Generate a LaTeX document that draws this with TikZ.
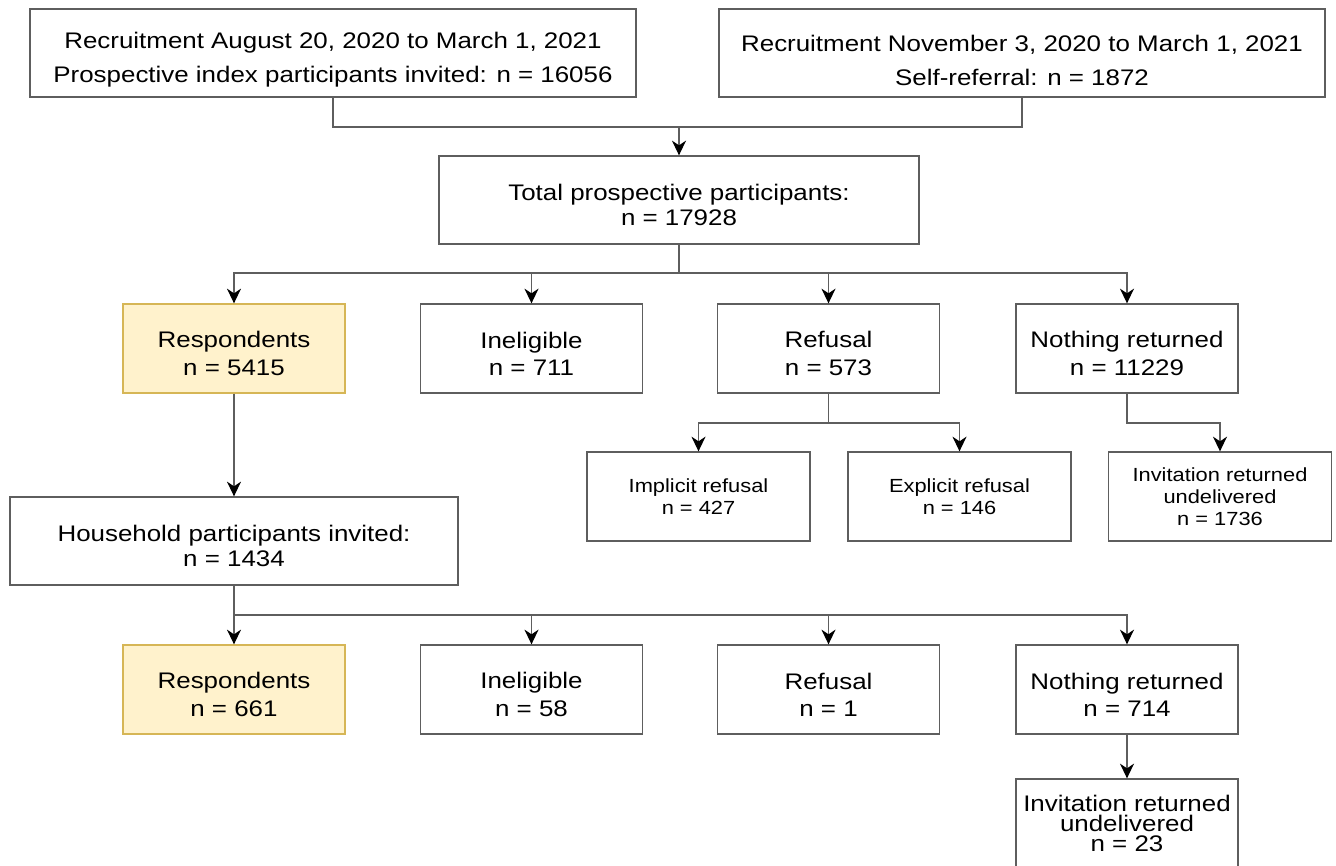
\documentclass[tikz,border=0pt]{standalone}
\usepackage{fontspec}
\setmainfont[FakeStretch=1.15]{Liberation Sans}
\usetikzlibrary{arrows.meta}
\definecolor{boxgray}{HTML}{5E5E5E}
\definecolor{respfill}{HTML}{FFF2CC}
\definecolor{respdraw}{HTML}{D6B656}
\begin{document}
\begin{tikzpicture}[x=0.75pt, y=-0.75pt,
  plainbox/.style={draw=boxgray, line width=1pt, align=center, inner sep=0pt,
    minimum width=166.5pt, minimum height=66.75pt},
  flowbox/.style={plainbox, text height=40.3pt,
    font=\fontsize{16.9}{20.5}\selectfont},
  topbox/.style={plainbox, text height=48.3pt,
    minimum width=454.5pt, minimum height=66pt,
    font=\fontsize{16.9}{25.5}\selectfont},
  sumbox/.style={plainbox, text height=38pt,
    minimum width=360pt, minimum height=66pt,
    font=\fontsize{16.9}{18.75}\selectfont},
  hhbox/.style={sumbox, minimum width=336pt},
  subbox/.style={plainbox, minimum width=167.25pt,
    font=\fontsize{14.25}{16.5}\selectfont},
  lastbox/.style={plainbox, font=\fontsize{16.9}{15}\selectfont},
  respbox/.style={flowbox, fill=respfill, draw=respdraw},
  link/.style={draw=boxgray, line width=1pt},
  arrow/.style={link, -{Stealth[length=11pt, width=10.5pt, inset=3.5pt, color=black]}}]

\useasboundingbox (0,0) rectangle (1336,865);
\clip (0,0) rectangle (1336,865);

% Recruitment
\node[topbox] (recA) at (333,53) {Recruitment August 20, 2020 to March 1, 2021\\
  Prospective index participants invited: n = 16056};
\node[topbox] (recB) at (1022,53) {Recruitment November 3, 2020 to March 1, 2021\\
  Self-referral: n = 1872};
\node[sumbox] (total) at (679,200) {Total prospective participants:\\n = 17928};

% Index participants
\node[respbox] (resp1) at (234,348.5) {Respondents\\n = 5415};
\node[flowbox] (inel1) at (531.5,348.5) {Ineligible\\n = 711};
\node[flowbox] (ref1) at (828.5,348.5) {Refusal\\n = 573};
\node[flowbox] (noth1) at (1127,348.5) {Nothing returned\\n = 11229};
\node[subbox] (impl) at (698.5,496.5) {Implicit refusal\\n = 427};
\node[subbox] (expl) at (959.5,496.5) {Explicit refusal\\n = 146};
\node[subbox] (undel1) at (1220,496.5) {Invitation returned\\undelivered\\n = 1736};

% Household participants
\node[hhbox] (house) at (234,541) {Household participants invited:\\n = 1434};
\node[respbox] (resp2) at (234,689.5) {Respondents\\n = 661};
\node[flowbox] (inel2) at (531.5,689.5) {Ineligible\\n = 58};
\node[flowbox] (ref2) at (828.5,689.5) {Refusal\\n = 1};
\node[flowbox] (noth2) at (1127,689.5) {Nothing returned\\n = 714};
\node[lastbox] (undel2) at (1127,823.5) {Invitation returned\\undelivered\\n = 23};

% Junctions
\coordinate (j1) at (679,127);
\coordinate (j2) at (679,273);
\coordinate (j3) at (828.5,423);
\coordinate (j5) at (234,615);

% Connectors
\draw[link] (recA.south) |- (j1) -| (recB.south);
\draw[arrow] (j1) -- (total.north);

\draw[arrow] (total.south) -- (j2) -| (resp1.north);
\draw[arrow] (j2) -| (inel1.north);
\draw[arrow] (j2) -| (ref1.north);
\draw[arrow] (j2) -| (noth1.north);

\draw[arrow] (ref1.south) -- (j3) -| (impl.north);
\draw[arrow] (j3) -| (expl.north);
\draw[arrow] (noth1.south) -- (noth1.south |- j3) -| (undel1.north);

\draw[arrow] (resp1.south) -- (house.north);

\draw[arrow] (house.south) -- (resp2.north);
\draw[arrow] (j5) -| (inel2.north);
\draw[arrow] (j5) -| (ref2.north);
\draw[arrow] (j5) -| (noth2.north);
\draw[arrow] (noth2.south) -- (undel2.north);

\end{tikzpicture}
\end{document}
